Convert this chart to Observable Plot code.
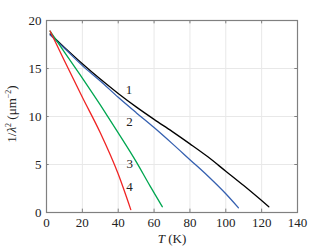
<!DOCTYPE html>
<html>
<head>
<meta charset="utf-8">
<script src="https://cdn.jsdelivr.net/npm/d3@7"></script>
<script src="https://cdn.jsdelivr.net/npm/@observablehq/plot@0.6"></script>
<style>
  html, body { margin: 0; padding: 0; background: #fff; }
</style>
</head>
<body>
<div id="chart"></div>
<script>
// Curve 1 (black)
const t1 = [2, 10, 20, 30, 40, 50, 60, 70, 80, 90, 100, 110, 124];
const v1 = [18.6, 17.2, 15.5, 13.9, 12.4, 11.0, 9.7, 8.45, 7.15, 5.8, 4.3, 2.8, 0.6];
// Curve 2 (blue)
const t2 = [2, 10, 20, 30, 40, 50, 60, 70, 80, 90, 100, 107];
const v2 = [18.5, 17.1, 15.3, 13.7, 12.0, 10.4, 8.85, 7.2, 5.5, 3.8, 1.95, 0.5];
// Curve 3 (green)
const t3 = [2, 10, 20, 30, 40, 50, 57.8, 64.6];
const v3 = [18.9, 16.7, 14.0, 11.2, 8.3, 5.3, 2.75, 0.6];
// Curve 4 (red)
const t4 = [2, 10, 20, 30, 40, 47];
const v4 = [18.9, 15.8, 12.0, 8.3, 4.0, 0.3];

const seriesNames = ["1", "2", "3", "4"];
const seriesColors = ["#000000", "#3560b0", "#00a650", "#f02424"];
const labelT = [46, 46.3, 46.5, 46.3];
const labelV = [12.8, 9.4, 5.1, 2.7];

const xTicks = [0, 20, 40, 60, 80, 100, 120, 140];
const yTicks = [0, 5, 10, 15, 20];

const series = [[t1, v1], [t2, v2], [t3, v3], [t4, v4]];
const rows = series.flatMap(([ts, vs], i) =>
  ts.map((t, j) => ({t, v: vs[j], s: seriesNames[i]})));
const labels = seriesNames.map((s, i) => ({s, t: labelT[i], v: labelV[i]}));

const axisGray = "#808080";
const serif = "'Liberation Serif', 'Times New Roman', Times, serif";
const svg = Plot.plot({
  width: 332,
  height: 251,
  marginLeft: 46,
  marginRight: 35,
  marginTop: 20,
  marginBottom: 39,
  style: {fontSize: "13px", background: "#fff", color: "#222"},
  x: {domain: [0, 140]},
  y: {domain: [0, 20]},
  color: {domain: seriesNames, range: seriesColors},
  marks: [
    Plot.gridX(xTicks, {stroke: "#e8e8e8", strokeOpacity: 1}),
    Plot.gridY(yTicks, {stroke: "#e8e8e8", strokeOpacity: 1}),
    Plot.line(rows, {x: "t", y: "v", z: "s", stroke: "s", strokeWidth: 1.3, curve: "monotone-x"}),
    Plot.ruleX(xTicks, {x: d => d, y1: 0, y2: 0.35, stroke: axisGray}),
    Plot.ruleX(xTicks, {x: d => d, y1: 20, y2: 19.65, stroke: axisGray}),
    Plot.ruleY(yTicks, {y: d => d, x1: 0, x2: 1.5, stroke: axisGray}),
    Plot.ruleY(yTicks, {y: d => d, x1: 140, x2: 138.5, stroke: axisGray}),
    Plot.frame({stroke: axisGray, strokeWidth: 1.2}),
    Plot.axisX(xTicks, {tickSize: 0, tickPadding: 5, label: null, fill: "#222"}),
    Plot.axisY(yTicks, {tickSize: 0, tickPadding: 5, label: null, fill: "#222"}),
    Plot.text(labels, {x: "t", y: "v", text: "s", fontSize: 13, fill: "#222"})
  ]
});

const s = d3.select(svg);
s.style("font-family", serif);
const xl = s.append("text")
  .attr("x", 172).attr("y", 243)
  .attr("text-anchor", "middle")
  .attr("fill", "#222")
  .attr("font-size", 13);
xl.append("tspan").attr("font-style", "italic").text("T");
xl.append("tspan").text(" (K)");

const yl = s.append("text")
  .attr("transform", "translate(16,114) rotate(-90)")
  .attr("text-anchor", "middle")
  .attr("fill", "#222")
  .attr("font-size", 13);
yl.append("tspan").text("1/");
yl.append("tspan").attr("font-style", "italic").text("λ");
yl.append("tspan").attr("font-size", 8).attr("dy", -5).text("2");
yl.append("tspan").attr("dy", 5).text(" (μm");
yl.append("tspan").attr("font-size", 8).attr("dy", -5).text("−2");
yl.append("tspan").attr("dy", 5).text(")");

s.selectAll("text").style("font-family", serif);

document.getElementById("chart").appendChild(svg);
</script>
</body>
</html>
